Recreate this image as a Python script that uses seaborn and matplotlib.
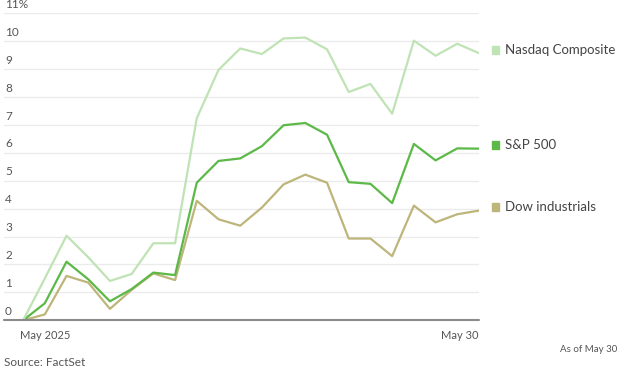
import numpy as np
import pandas as pd
import matplotlib
matplotlib.use("Agg")
import matplotlib.pyplot as plt
import seaborn as sns

days = list(range(22))
nasdaq = [0, 1.5, 3.03, 2.26, 1.41, 1.66, 2.76, 2.76, 7.24, 8.97, 9.74, 9.54, 10.1, 10.13,
          9.71, 8.18, 8.47, 7.4, 10.02, 9.48, 9.91, 9.57]
sp500 = [0, 0.61, 2.1, 1.47, 0.68, 1.12, 1.71, 1.62, 4.93, 5.71, 5.8, 6.24, 6.99, 7.07,
         6.65, 4.95, 4.89, 4.2, 6.32, 5.73, 6.16, 6.15]
dow = [0, 0.21, 1.59, 1.35, 0.41, 1.09, 1.68, 1.44, 4.28, 3.62, 3.39, 4.04, 4.87, 5.22,
       4.93, 2.93, 2.93, 2.3, 4.11, 3.51, 3.8, 3.93]
series_names = ["Nasdaq Composite", "S&P 500", "Dow industrials"]
colors = ["#bfe3b4", "#5cb947", "#bdb57a"]
y_ticks = list(range(12))
y_labels = [str(v) for v in range(11)] + ["11%"]
x_tick_labels = {1: "May 2025", 21: "May 30"}

df = pd.DataFrame({
    "day": days * 3,
    "value": nasdaq + sp500 + dow,
    "series": [series_names[0]] * 22 + [series_names[1]] * 22 + [series_names[2]] * 22,
})

sns.set_style("white")
plt.rcParams['font.family'] = ['Lato', 'DejaVu Sans']

fig = plt.figure(figsize=(6.24, 3.69), dpi=100)
W, H = 624, 369
ax = fig.add_axes([4 / W, (H - 320.3) / H, (479 - 4) / W, (320.3 - 13.3) / H])

sns.lineplot(data=df, x="day", y="value", hue="series", palette=dict(zip(series_names, colors)),
             hue_order=series_names[::-1], linewidth=1.6, ax=ax, legend=False)

ax.set_xlim(-0.88, 21)
ax.set_ylim(0, 11)
for s in ax.spines.values():
    s.set_visible(False)
for v in y_ticks[1:]:
    ax.axhline(v, color="#ebebeb", lw=1, zorder=0)
ax.axhline(0, color="#8a8a8a", lw=1.5, zorder=5, clip_on=False)

ax.set_yticks([])
ax.set_xticks(days[1:])
ax.set_xticklabels([x_tick_labels.get(d, "") for d in days[1:]])
ax.tick_params(axis="x", length=3, width=0.8, color="#8a8a8a", labelsize=8, labelcolor="#555555", pad=4)
ax.get_xticklabels()[-1].set_horizontalalignment("right")
ax.set_xlabel("")
ax.set_ylabel("")

for v, lab in zip(y_ticks, y_labels):
    ax.text(-0.83, v + 0.12, lab, fontsize=8.5, color="#555555", ha="left", va="bottom",
            transform=ax.transData)

legend_y = [50, 145, 207]
for name, c, yp in zip(series_names, colors, legend_y):
    fig.patches.append(matplotlib.patches.Rectangle(((492) / W, (H - yp - 4) / H), 7 / W, 8 / H,
                                                     transform=fig.transFigure, color=c, figure=fig))
    fig.text(505 / W, (H - yp) / H, name, fontsize=9.5, color="#444444", ha="left", va="center")

fig.text(4 / W, (H - 362) / H, "Source: FactSet", fontsize=8.5, color="#555555", ha="left", va="center")
fig.text(617 / W, (H - 349) / H, "As of May 30", fontsize=7, color="#555555", ha="right", va="center")

fig.savefig("out.png", dpi=100)
